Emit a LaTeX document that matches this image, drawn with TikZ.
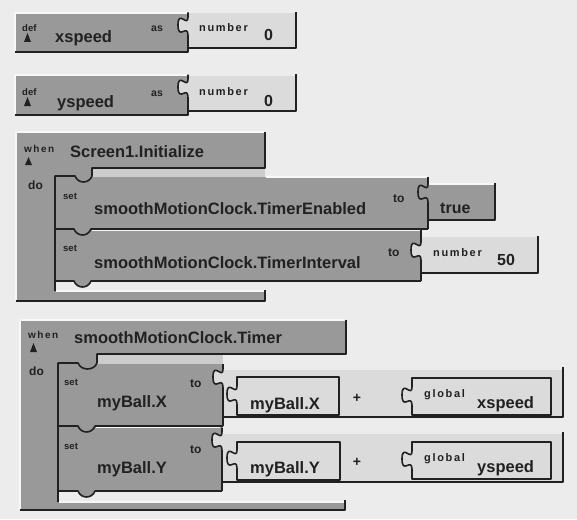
\documentclass[tikz,border=0pt]{standalone}
\usepackage{fontspec}
\setmainfont{Liberation Sans}
\newfontfamily\lblf[LetterSpace=15]{Liberation Sans}
\definecolor{bg}{gray}{0.925}
\definecolor{dk}{gray}{0.60}
\definecolor{lt}{gray}{0.86}
\definecolor{ln}{gray}{0.13}
\definecolor{hl}{gray}{0.97}
\definecolor{bd}{gray}{0.80}
\tikzset{
  sh/.style={draw=ln, line width=1.6pt, line join=round},
  hi/.style={draw=hl, line width=1.2pt},
  txt/.style={inner sep=0pt, anchor=base west, text=ln},
  nm/.style={txt, font=\fontsize{16.5}{18}\selectfont\bfseries},
  val/.style={txt, font=\fontsize{16}{18}\selectfont\bfseries},
  tinylbl/.style={txt, font=\fontsize{9.5}{11}\selectfont\bfseries},
  kw/.style={txt, font=\fontsize{12}{14}\selectfont\bfseries},
  askw/.style={txt, font=\fontsize{10.5}{12}\selectfont\bfseries},
  sp/.style={txt, font=\fontsize{11}{13}\lblf\bfseries},
  whenlbl/.style={txt, font=\fontsize{10}{12}\lblf\bfseries},
  pluslbl/.style={inner sep=0pt, anchor=center, text=ln, font=\fontsize{14}{16}\selectfont\bfseries},
  pics/sock/.style={code={
    \fill[#1] (0,0) -- (0,4) .. controls (0,15) and (-10,-4) .. (-10,12) .. controls (-10,28) and (0,10) .. (0,22) -- cycle;
    \draw[sh] (0,-0.5) -- (0,4) .. controls (0,15) and (-10,-4) .. (-10,12) .. controls (-10,28) and (0,10) .. (0,22.5);
  }},
}
\begin{document}
\begin{tikzpicture}[x=1pt,y=-1pt]
\fill[bg] (0,0) rectangle (577,519);
\useasboundingbox (0,0) rectangle (577,519);

% ---------- def xspeed ----------
\fill[dk] (15,13) rectangle (188,52);
\fill[lt] (188,13) rectangle (296,48);
\draw[hi] (15,51) -- (15,13) -- (187,13);
\pic at (188,13) {sock=lt};
\draw[sh] (188,35) -- (188,52) -- (15,52);
\draw[sh] (296,12) -- (296,48) -- (188,48);
\node[tinylbl] (d1) at (22,31) {def};
\fill[ln] (24,42) -- (31,42) -- (27.5,33) -- cycle;
\node[nm] (v1) at (55,43) {xspeed};
\node[askw] (as1) at (151,31.5) {as};
\node[sp] (num1) at (199,31.5) {number};
\node[val] (z1) at (264,40.5) {0};

% ---------- def yspeed ----------
\fill[dk] (15,75) rectangle (188,115);
\fill[lt] (188,76) rectangle (296,111);
\draw[hi] (15,114) -- (15,75) -- (187,75);
\pic at (188,75) {sock=lt};
\draw[sh] (188,97) -- (188,115) -- (15,115);
\draw[sh] (296,74) -- (296,111) -- (188,111);
\node[tinylbl] (d2) at (22,95) {def};
\fill[ln] (24,106) -- (31,106) -- (27.5,97) -- cycle;
\node[nm] (v2) at (57,107) {yspeed};
\node[askw] (as2) at (151,96) {as};
\node[sp] (num2) at (199,95) {number};
\node[val] (z2) at (264,106) {0};

% ---------- when Screen1.Initialize ----------
\fill[dk] (16,132) rectangle (265,168);
\fill[dk] (16,168) rectangle (55,301);
\fill[dk] (55,291) rectangle (265,301);
\fill[dk] (55,168) rectangle (92,177);
\fill[bd] (92,168) rectangle (265,177);
\fill[dk] (55,177) rectangle (428,229);
\fill[dk] (55,229) rectangle (421,281);
\fill[dk] (74,281) .. controls (77,289) and (88,289) .. (91,281) -- cycle;
\fill[dk] (428,184) rectangle (495,220);
\fill[lt] (421,237) rectangle (538,273);
\pic at (428,180) {sock=dk};
\pic at (421,238) {sock=lt};
\draw[hi] (16,300) -- (16,132) -- (264,132);
\draw[hi] (266,177) -- (427,177);
\draw[hi] (429,184) -- (494,184);
\draw[hi] (56,291) -- (264,291);
\draw[hi, line width=0.8pt] (92,230.5) -- (420,230.5);
\draw[sh] (265,132) -- (265,168) -- (92,168) -- (92,176) .. controls (89,184) and (78,184) .. (75,176) -- (55,176) -- (55,291);
\draw[sh] (428,177) -- (428,180) (428,202) -- (428,229);
\draw[sh] (55,229) -- (74,229) .. controls (77,237) and (88,237) .. (91,229) -- (428,229);
\draw[sh] (495,183) -- (495,220) -- (428,220);
\draw[sh] (421,229) -- (421,238) (421,260) -- (421,281);
\draw[sh] (55,281) -- (74,281) .. controls (77,289) and (88,289) .. (91,281) -- (421,281);
\draw[sh] (538,236) -- (538,273) -- (421,273);
\draw[sh] (16,301) -- (265,301) -- (265,290);
\node[whenlbl] (w1) at (24,152) {when};
\fill[ln] (25,165) -- (32,165) -- (28.5,157) -- cycle;
\node[nm] (e1) at (70,157) {Screen1.Initialize};
\node[kw] (do1) at (28,189) {do};
\node[tinylbl] (s1) at (63,199) {set};
\node[nm] (p1) at (94,214) {smoothMotionClock.TimerEnabled};
\node[kw] (to1) at (393,202) {to};
\node[val] (tr) at (440,213) {true};
\node[tinylbl] (s2) at (63,251) {set};
\node[nm] (p2) at (94,268) {smoothMotionClock.TimerInterval};
\node[kw] (to2) at (388,256) {to};
\node[sp] (num3) at (433,256) {number};
\node[val] (fifty) at (497,265) {50};

% ---------- when smoothMotionClock.Timer ----------
\fill[dk] (20,320) rectangle (346,354);
\fill[dk] (20,354) rectangle (58,510);
\fill[dk] (58,502) rectangle (345,510);
\fill[dk] (58,354) rectangle (97,364);
\fill[bd] (97,354) rectangle (223,364);
\fill[dk] (58,364) rectangle (223,426);
\fill[dk] (58,426) rectangle (222,491);
\fill[dk] (78,491) .. controls (81,499) and (92,499) .. (95,491) -- cycle;
\fill[lt] (223,370) rectangle (563,417);
\fill[lt] (222,434) rectangle (563,482);
\pic at (223,365) {sock=lt};
\pic at (222,428) {sock=lt};
\draw[hi] (20,509) -- (20,320) -- (345,320);
\draw[hi] (59,502) -- (344,502);
\draw[hi, line width=0.8pt] (96,427.5) -- (220,427.5);
\draw[sh] (346,320) -- (346,354) -- (97,354) -- (97,363) .. controls (94,371) and (81,371) .. (78,363) -- (58,363) -- (58,502);
\draw[sh] (223,364) -- (223,365) (223,387) -- (223,426);
\draw[sh] (58,426) -- (78,426) .. controls (81,434) and (92,434) .. (95,426) -- (223,426);
\draw[sh] (222,450) -- (222,491);
\draw[sh] (58,491) -- (78,491) .. controls (81,499) and (92,499) .. (95,491) -- (222,491);
\draw[sh] (563,367) -- (563,417) -- (223,417);
\draw[sh] (563,432) -- (563,482) -- (222,482);
\draw[sh] (20,510) -- (345,510) -- (345,500);
% getter myBall.X
\pic at (237,382) {sock=lt};
\draw[sh] (237,382) -- (237,377) -- (339,377) -- (339,415) -- (237,415) -- (237,404);
% global xspeed
\pic at (412,383) {sock=lt};
\draw[sh] (412,383) -- (412,378) -- (551,378) -- (551,415) -- (412,415) -- (412,405);
% getter myBall.Y
\pic at (237,446) {sock=lt};
\draw[sh] (237,446) -- (237,442) -- (340,442) -- (340,480) -- (237,480) -- (237,468);
% global yspeed
\pic at (412,447) {sock=lt};
\draw[sh] (412,447) -- (412,442) -- (551,442) -- (551,479) -- (412,479) -- (412,469);

\node[whenlbl] (w2) at (28,338) {when};
\fill[ln] (30,352) -- (37,352) -- (33.5,343) -- cycle;
\node[nm] (e2) at (74,343) {smoothMotionClock.Timer};
\node[kw] (do2) at (29,375) {do};
\node[tinylbl] (s3) at (64,385) {set};
\node[nm] (bx) at (97,407) {myBall.X};
\node[kw] (to3) at (190,387) {to};
\node[nm] (gx) at (250,409) {myBall.X};
\node[pluslbl] (pl1) at (357,398) {+};
\node[sp] (gl1) at (424,397) {global};
\node[nm] (xs) at (477,408) {xspeed};
\node[tinylbl] (s4) at (64,449) {set};
\node[nm] (by) at (97,473) {myBall.Y};
\node[kw] (to4) at (190,453) {to};
\node[nm] (gy) at (250,473) {myBall.Y};
\node[pluslbl] (pl2) at (357,462) {+};
\node[sp] (gl2) at (424,461) {global};
\node[nm] (ys) at (477,472) {yspeed};
\end{tikzpicture}
\end{document}
